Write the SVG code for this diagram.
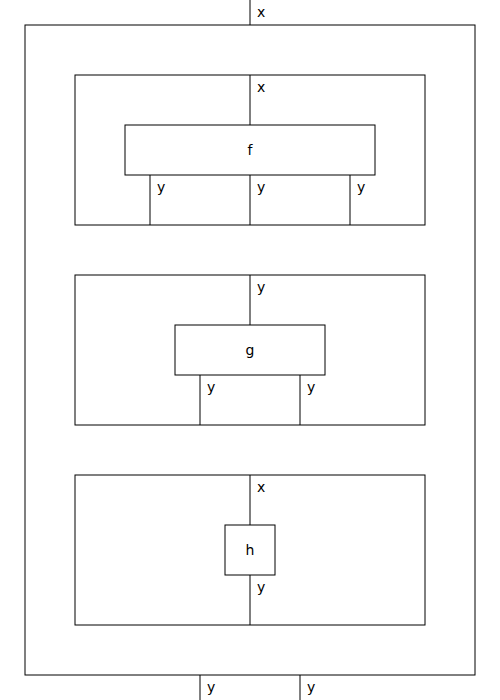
<svg xmlns="http://www.w3.org/2000/svg" width="500" height="700" viewBox="0 0 500 700">
<style>
.box{fill:none;stroke:#000;stroke-width:1}
.w{stroke:#000;stroke-width:1;fill:none}
.lbl{font-family:"DejaVu Sans",sans-serif;font-size:14px;fill:#000}
.name{font-family:"DejaVu Sans",sans-serif;font-size:14px;fill:#000;text-anchor:middle;dominant-baseline:central}
</style>
<rect width="500" height="700" fill="#fff"/>
<g id="connectors">
<line class="w" x1="250" y1="0" x2="250" y2="25"/>
<line class="w" x1="250" y1="75" x2="250" y2="125"/>
<line class="w" x1="150" y1="175" x2="150" y2="225"/>
<line class="w" x1="250" y1="175" x2="250" y2="225"/>
<line class="w" x1="350" y1="175" x2="350" y2="225"/>
<line class="w" x1="250" y1="275" x2="250" y2="325"/>
<line class="w" x1="200" y1="375" x2="200" y2="425"/>
<line class="w" x1="300" y1="375" x2="300" y2="425"/>
<line class="w" x1="250" y1="475" x2="250" y2="525"/>
<line class="w" x1="250" y1="575" x2="250" y2="625"/>
<line class="w" x1="200" y1="675" x2="200" y2="700"/>
<line class="w" x1="300" y1="675" x2="300" y2="700"/>
</g>
<g id="labels">
<text class="lbl" x="257" y="17">x</text>
<text class="lbl" x="257" y="92">x</text>
<text class="lbl" x="157" y="192">y</text>
<text class="lbl" x="257" y="192">y</text>
<text class="lbl" x="357" y="192">y</text>
<text class="lbl" x="257" y="292">y</text>
<text class="lbl" x="207" y="392">y</text>
<text class="lbl" x="307" y="392">y</text>
<text class="lbl" x="257" y="492">x</text>
<text class="lbl" x="257" y="592">y</text>
<text class="lbl" x="207" y="692">y</text>
<text class="lbl" x="307" y="692">y</text>
</g>
<g id="outer"><rect class="box" x="25" y="25" width="450" height="650"/></g>
<g id="frame1"><rect class="box" x="75" y="75" width="350" height="150"/></g>
<g id="f"><rect class="box" x="125" y="125" width="250" height="50"/><text class="name" x="250" y="150">f</text></g>
<g id="frame2"><rect class="box" x="75" y="275" width="350" height="150"/></g>
<g id="g"><rect class="box" x="175" y="325" width="150" height="50"/><text class="name" x="250" y="350">g</text></g>
<g id="frame3"><rect class="box" x="75" y="475" width="350" height="150"/></g>
<g id="h"><rect class="box" x="225" y="525" width="50" height="50"/><text class="name" x="250" y="550">h</text></g>
</svg>
